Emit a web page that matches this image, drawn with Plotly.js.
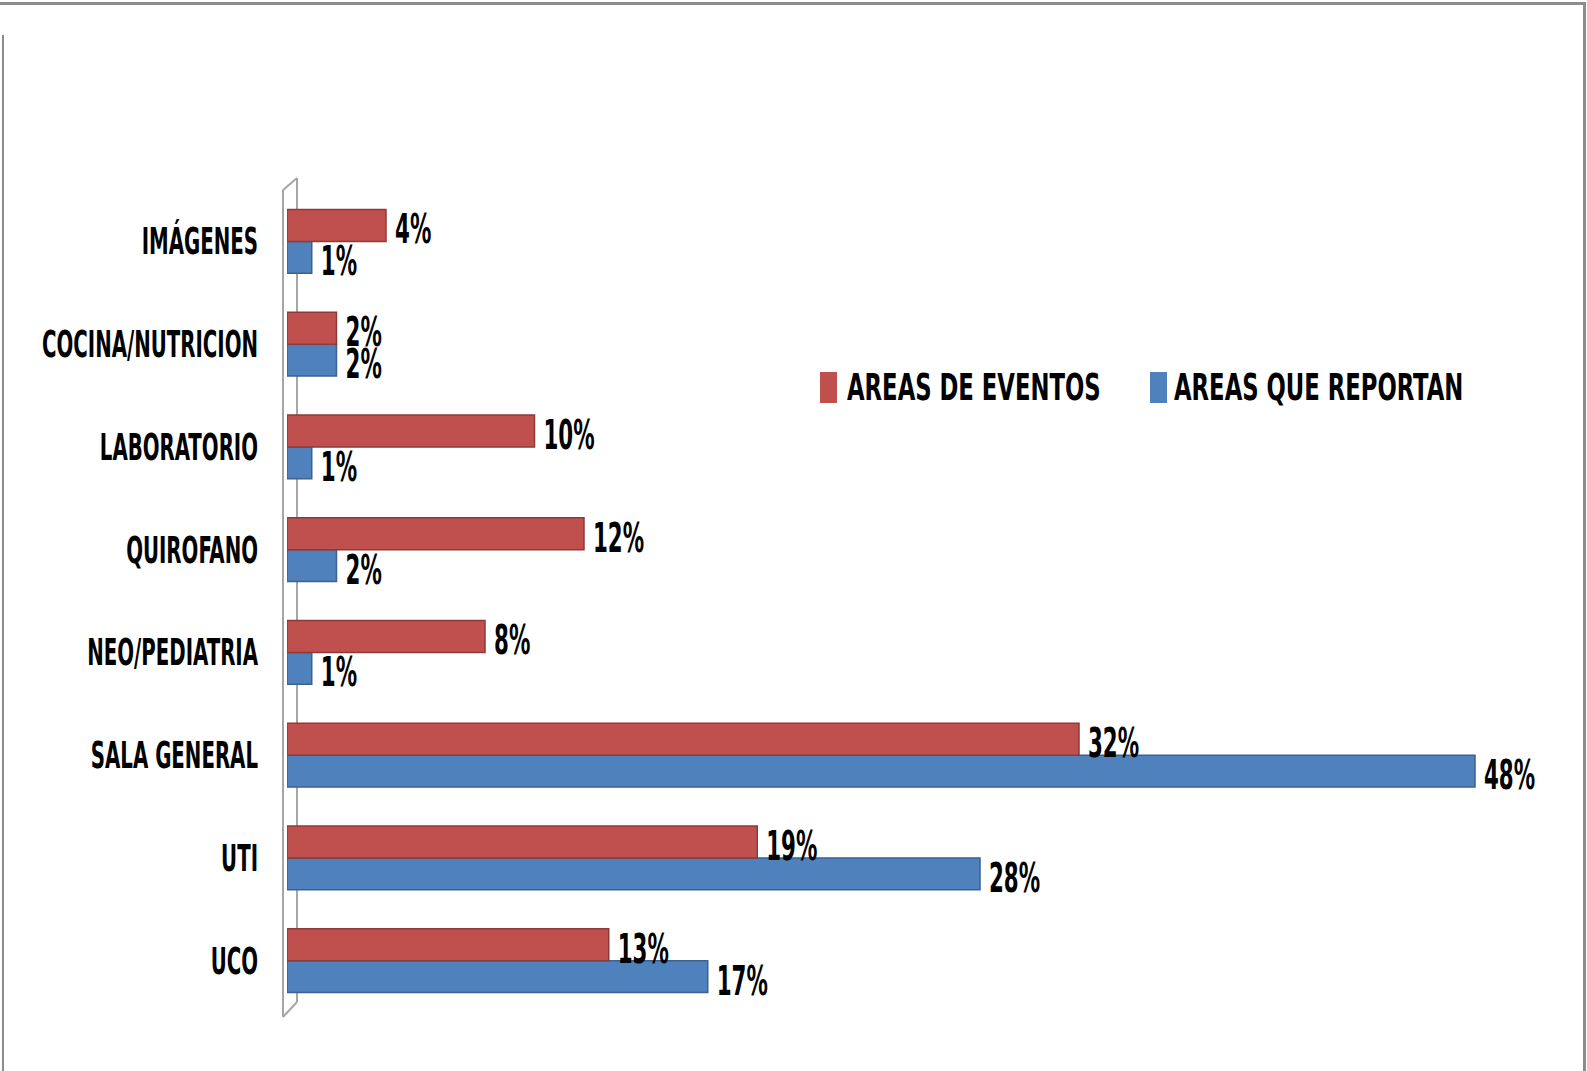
<!DOCTYPE html>
<html>
<head>
<meta charset="utf-8">
<script src="https://cdn.plot.ly/plotly-3.0.1.min.js"></script>
<style>
  html, body { margin: 0; padding: 0; background: #ffffff; }
  #wrap { position: relative; width: 1587px; height: 1071px; overflow: hidden; background: #fff; }
  #chart { position: absolute; left: 0; top: 0; width: 1587px; height: 1071px; }
  .frame { position: absolute; background: #8c8c8c; }
</style>
</head>
<body>
<div id="wrap">
  <div id="chart"></div>
  <div class="frame" style="left:0;top:2px;width:1586px;height:3px;"></div>
  <div class="frame" style="left:2px;top:35px;width:2px;height:1036px;"></div>
  <div class="frame" style="left:1583px;top:2px;width:3px;height:1069px;"></div>
</div>
<script>
const categories = ["UCO", "UTI", "SALA GENERAL", "NEO/PEDIATRIA", "QUIROFANO", "LABORATORIO", "COCINA/NUTRICION", "IMÁGENES"];
const eventos = [13, 19, 32, 8, 12, 10, 2, 4];
const reportan = [17, 28, 48, 1, 2, 1, 2, 1];
const seriesNames = ["AREAS DE EVENTOS", "AREAS QUE REPORTAN"];
const seriesColors = ["#C0504D", "#4F81BD"];
const edgeColors = ["#8E3A38", "#3A6290"];

const FONT = "'DejaVu Sans Condensed', 'DejaVu Sans', sans-serif";
const pct = v => v + "%";

// plot area in pixels
const L = 287, R = 13, T = 190, B = 59, W = 1587, H = 1071;
const PW = W - L - R, PH = H - T - B;
const px = x => (x - L) / PW;
const py = y => (H - B - y) / PH;

const traces = [
  {
    type: "bar", orientation: "h", name: seriesNames[1], showlegend: false,
    y: categories, x: reportan,
    text: reportan.map(pct), textposition: "outside", cliponaxis: false, constraintext: "none",
    textfont: { family: FONT, size: 40, color: "#000", weight: "bold" },
    marker: { color: seriesColors[1], line: { color: edgeColors[1], width: 1.5 } },
    hoverinfo: "skip"
  },
  {
    type: "bar", orientation: "h", name: seriesNames[0], showlegend: false,
    y: categories, x: eventos,
    text: eventos.map(pct), textposition: "outside", cliponaxis: false, constraintext: "none",
    textfont: { family: FONT, size: 40, color: "#000", weight: "bold" },
    marker: { color: seriesColors[0], line: { color: edgeColors[0], width: 1.5 } },
    hoverinfo: "skip"
  }
];

const grey = { color: "#a6a6a6", width: 2 };
const legendFont = { family: FONT, size: 38, color: "#000", weight: "bold" };
// legend: swatch left edges and text starts (pixels)
const legendSwatchX = [820, 1150];
const legendTextX = [846, 1173];
const legendY = 387;

const shapes = [
  { type: "line", xref: "paper", yref: "paper", layer: "below", x0: px(283), x1: px(283), y0: py(190), y1: py(1017), line: grey },
  { type: "line", xref: "paper", yref: "paper", layer: "below", x0: px(297), x1: px(297), y0: py(178), y1: py(1002), line: grey },
  { type: "line", xref: "paper", yref: "paper", layer: "below", x0: px(283), x1: px(297), y0: py(190), y1: py(178), line: grey },
  { type: "line", xref: "paper", yref: "paper", layer: "below", x0: px(297), x1: px(283), y0: py(1002), y1: py(1017), line: grey }
];
const annotations = [];
seriesNames.forEach((name, i) => {
  shapes.push({
    type: "rect", xref: "paper", yref: "paper",
    x0: px(legendSwatchX[i]), x1: px(legendSwatchX[i] + 17),
    y0: py(legendY - 15), y1: py(legendY + 16),
    fillcolor: seriesColors[i], line: { width: 0 }
  });
  annotations.push({
    xref: "paper", yref: "paper", x: px(legendTextX[i]), y: py(legendY),
    xanchor: "left", yanchor: "middle", align: "left", showarrow: false,
    borderpad: 0, text: name, font: legendFont
  });
});

const layout = {
  width: W, height: H,
  paper_bgcolor: "rgba(0,0,0,0)", plot_bgcolor: "rgba(0,0,0,0)",
  margin: { l: L, r: R, t: T, b: B, autoexpand: false },
  barmode: "group", bargap: 0.38, bargroupgap: 0,
  showlegend: false,
  xaxis: {
    range: [0, 52], showgrid: false, zeroline: false, showticklabels: false,
    showline: false, ticks: "", automargin: false
  },
  yaxis: {
    type: "category", categoryorder: "array", categoryarray: categories,
    showgrid: false, zeroline: false, showline: false, automargin: false,
    ticks: "", ticklabelstandoff: 28,
    tickfont: { family: FONT, size: 37, color: "#000", weight: "bold" }
  },
  shapes: shapes,
  annotations: annotations
};

function condense(gd) {
  // Narrow the glyphs horizontally (condensed look) while keeping text as real text.
  let f = 0.62;
  gd.querySelectorAll(".ytick text").forEach(t => {
    if (t.textContent === "COCINA/NUTRICION") {
      const w = t.dataset.nw ? parseFloat(t.dataset.nw) : t.getComputedTextLength();
      f = 216 / w;
    }
  });
  const squeeze = (t, k) => {
    if (t.dataset.sq) return null;
    const w = t.getComputedTextLength();
    t.dataset.nw = w;
    t.dataset.sq = "1";
    t.setAttribute("lengthAdjust", "spacingAndGlyphs");
    t.setAttribute("textLength", (w * k).toFixed(2));
    return w;
  };
  gd.querySelectorAll(".ytick text").forEach(t => squeeze(t, f));
  const fl = f * 1.12;
  gd.querySelectorAll("text.annotation-text").forEach(t => {
    const anchor = t.getAttribute("text-anchor");
    const w = squeeze(t, fl);
    if (w === null) return;
    const x0 = parseFloat(t.getAttribute("x") || "0");
    if (anchor === "middle") t.setAttribute("x", (x0 - w * (1 - fl) / 2).toFixed(2));
    else if (anchor === "end") t.setAttribute("x", (x0 - w * (1 - fl)).toFixed(2));
  });
  gd.querySelectorAll("text.bartext").forEach(t => {
    const w = squeeze(t, f);
    if (w === null) return;
    const x0 = parseFloat(t.getAttribute("x") || "0");
    const y0 = parseFloat(t.getAttribute("y") || "0");
    t.setAttribute("x", (x0 - w * (1 - f) / 2 + 6).toFixed(2));
    t.setAttribute("y", (y0 + 4).toFixed(2));
  });
}

Plotly.newPlot("chart", traces, layout, { displayModeBar: false, staticPlot: true }).then(gd => {
  condense(gd);
  [30, 150, 400].forEach(ms => setTimeout(() => condense(gd), ms));
});
</script>
</body>
</html>
